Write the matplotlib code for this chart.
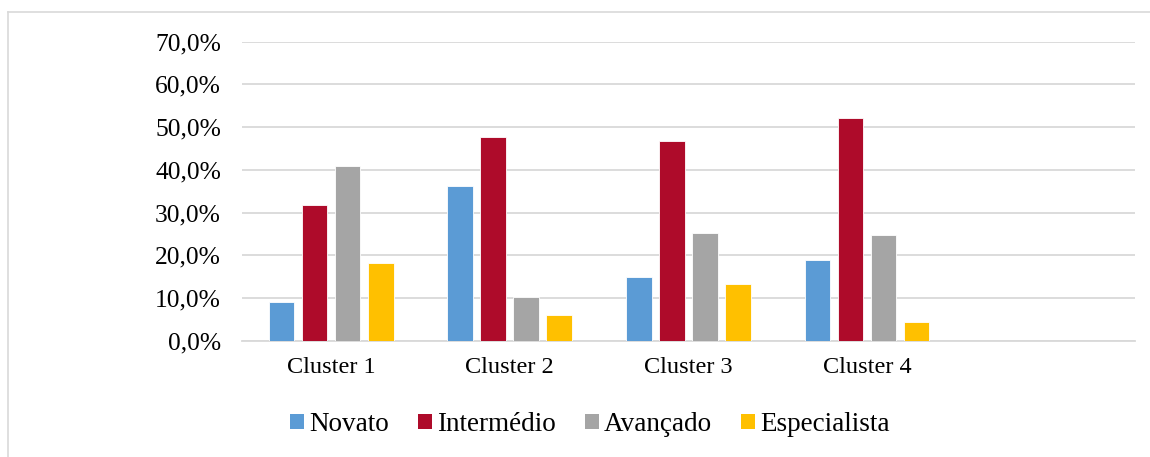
import numpy as np
import matplotlib.pyplot as plt
from matplotlib.patches import Patch
from matplotlib.lines import Line2D

plt.rcParams['font.family'] = ['Liberation Serif', 'DejaVu Serif']

clusters = ['Cluster 1', 'Cluster 2', 'Cluster 3', 'Cluster 4', '']
series = ['Novato', 'Intermédio', 'Avançado', 'Especialista']
novato = [9.1, 36.3, 15.0, 19.0]
intermedio = [31.8, 47.8, 46.8, 52.2]
avancado = [41.0, 10.2, 25.1, 24.8]
especialista = [18.2, 5.9, 13.3, 4.4]
colors = ['#5B9BD5', '#AE0B2A', '#A5A5A5', '#FFC000']

fig = plt.figure(figsize=(11.5, 4.57), dpi=100)
ax = fig.add_axes([0.2102, 0.2545, 0.7768, 0.6543])

x = np.arange(len(novato))
step = 0.185
width = 0.144
for i, (vals, c) in enumerate(zip([novato, intermedio, avancado, especialista], colors)):
    ax.bar(x + (i - 1.5) * step, vals, width, color=c, edgecolor='white', linewidth=0.6, zorder=3)

ax.set_xlim(-0.5, len(clusters) - 0.5)
ax.set_ylim(0, 70)
ax.set_yticks(np.arange(0, 71, 10))
ax.set_yticklabels([f'{v:.1f}%'.replace('.', ',') for v in np.arange(0, 71, 10)], fontsize=18.4)
ax.set_xticks(np.arange(len(clusters)))
ax.set_xticklabels(clusters, fontsize=17.5)
ax.tick_params(axis='both', length=0)
ax.tick_params(axis='y', pad=15)
ax.tick_params(axis='x', pad=12)
ax.grid(axis='y', color='#D9D9D9', linewidth=1.3, zorder=0)
for s in ['left', 'right', 'top']:
    ax.spines[s].set_visible(False)
ax.spines['bottom'].set_color('#D9D9D9')
ax.spines['bottom'].set_linewidth(1.3)

handles = [Patch(facecolor=c, edgecolor='none') for c in colors]
fig.legend(handles, series, loc='center', bbox_to_anchor=(0.513, 0.0707), ncol=4,
           frameon=False, fontsize=19.5, handlelength=0.52, handleheight=0.52,
           handletextpad=0.2, columnspacing=1.05, borderpad=0, borderaxespad=0)

# chart frame (left and top edges)
fig.add_artist(Line2D([8 / 1150, 8 / 1150], [0, 1 - 12 / 457], color='#D9D9D9', linewidth=1.2))
fig.add_artist(Line2D([8 / 1150, 1], [1 - 12 / 457, 1 - 12 / 457], color='#D9D9D9', linewidth=1.2))

fig.savefig('out.png', dpi=100)
